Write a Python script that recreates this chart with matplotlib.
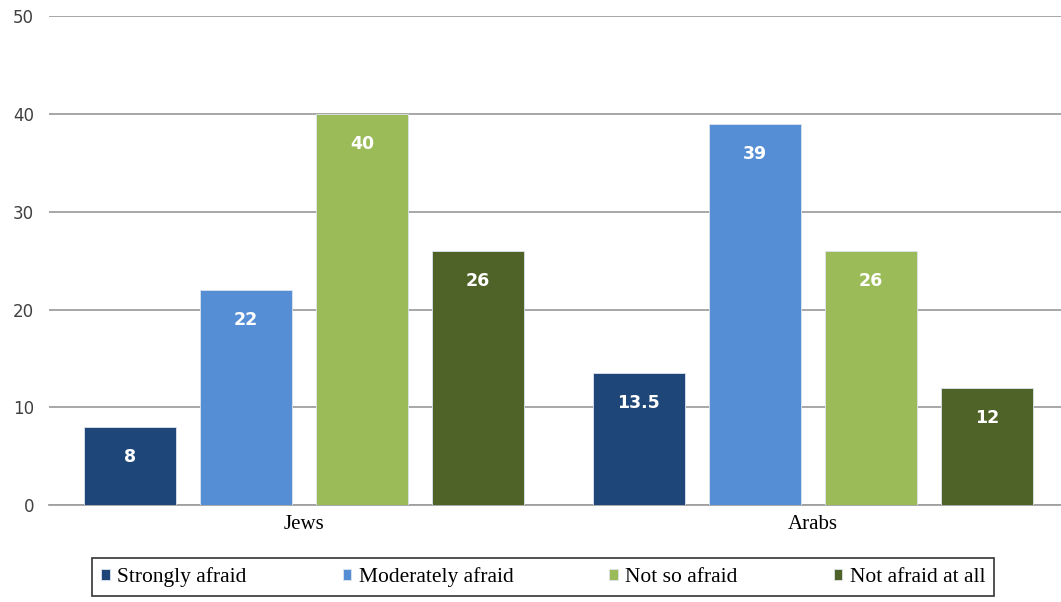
import numpy as np
import matplotlib.pyplot as plt

groups = ["Jews", "Arabs"]
series = ["Strongly afraid", "Moderately afraid", "Not so afraid", "Not afraid at all"]
values = [
    [8, 13.5],
    [22, 39],
    [40, 26],
    [26, 12],
]
labels = [["8", "13.5"], ["22", "39"], ["40", "26"], ["26", "12"]]
colors = ["#1F4678", "#558ED5", "#9BBB59", "#4F6228"]

fig = plt.figure(figsize=(10.61, 6.02), dpi=100, facecolor="w")
# axes runs a little past the right edge so the groups sit where they do in the original
ax = fig.add_axes([0.0466, 0.161, 0.9594, 0.812])

x = np.arange(len(groups))
width = 0.182
step = 0.228
for i, (name, vals) in enumerate(zip(series, values)):
    pos = x + (i - 1.5) * step
    bars = ax.bar(pos, vals, width, color=colors[i], label=name, zorder=3,
                  edgecolor="#DDE4EE", linewidth=0.6)
    for b, lab in zip(bars, labels[i]):
        ax.text(b.get_x() + b.get_width() / 2, b.get_height() - 3.1, lab,
                ha="center", va="center", color="white", fontsize=12.5,
                fontweight="bold", family="DejaVu Sans", zorder=4)

ax.set_xlim(-0.5, 1.5)
ax.set_ylim(0, 50)
ax.set_yticks(range(0, 51, 10))
ax.yaxis.grid(True, color="#A0A0A0", linewidth=1.3, zorder=0)
for s in ["top", "right", "left"]:
    ax.spines[s].set_visible(False)
ax.spines["bottom"].set_color("#A0A0A0")
ax.spines["bottom"].set_linewidth(1.3)
ax.tick_params(axis="both", length=0)
ax.tick_params(axis="y", labelsize=12, labelcolor="#404040", pad=11)
ax.set_xticks(x)
ax.set_xticklabels(groups, family="Liberation Serif", fontsize=15)
ax.tick_params(axis="x", pad=7)

leg = fig.legend(loc="center", bbox_to_anchor=(0.512, 0.0415), ncol=4,
                 prop={"family": "Liberation Serif", "size": 15.5},
                 frameon=True, fancybox=False, edgecolor="#000000",
                 handlelength=0.4, handleheight=0.4, handletextpad=0.35,
                 columnspacing=4.45, borderpad=0.42, borderaxespad=0)
leg.get_frame().set_linewidth(1.2)

fig.savefig("out.png", dpi=100)
